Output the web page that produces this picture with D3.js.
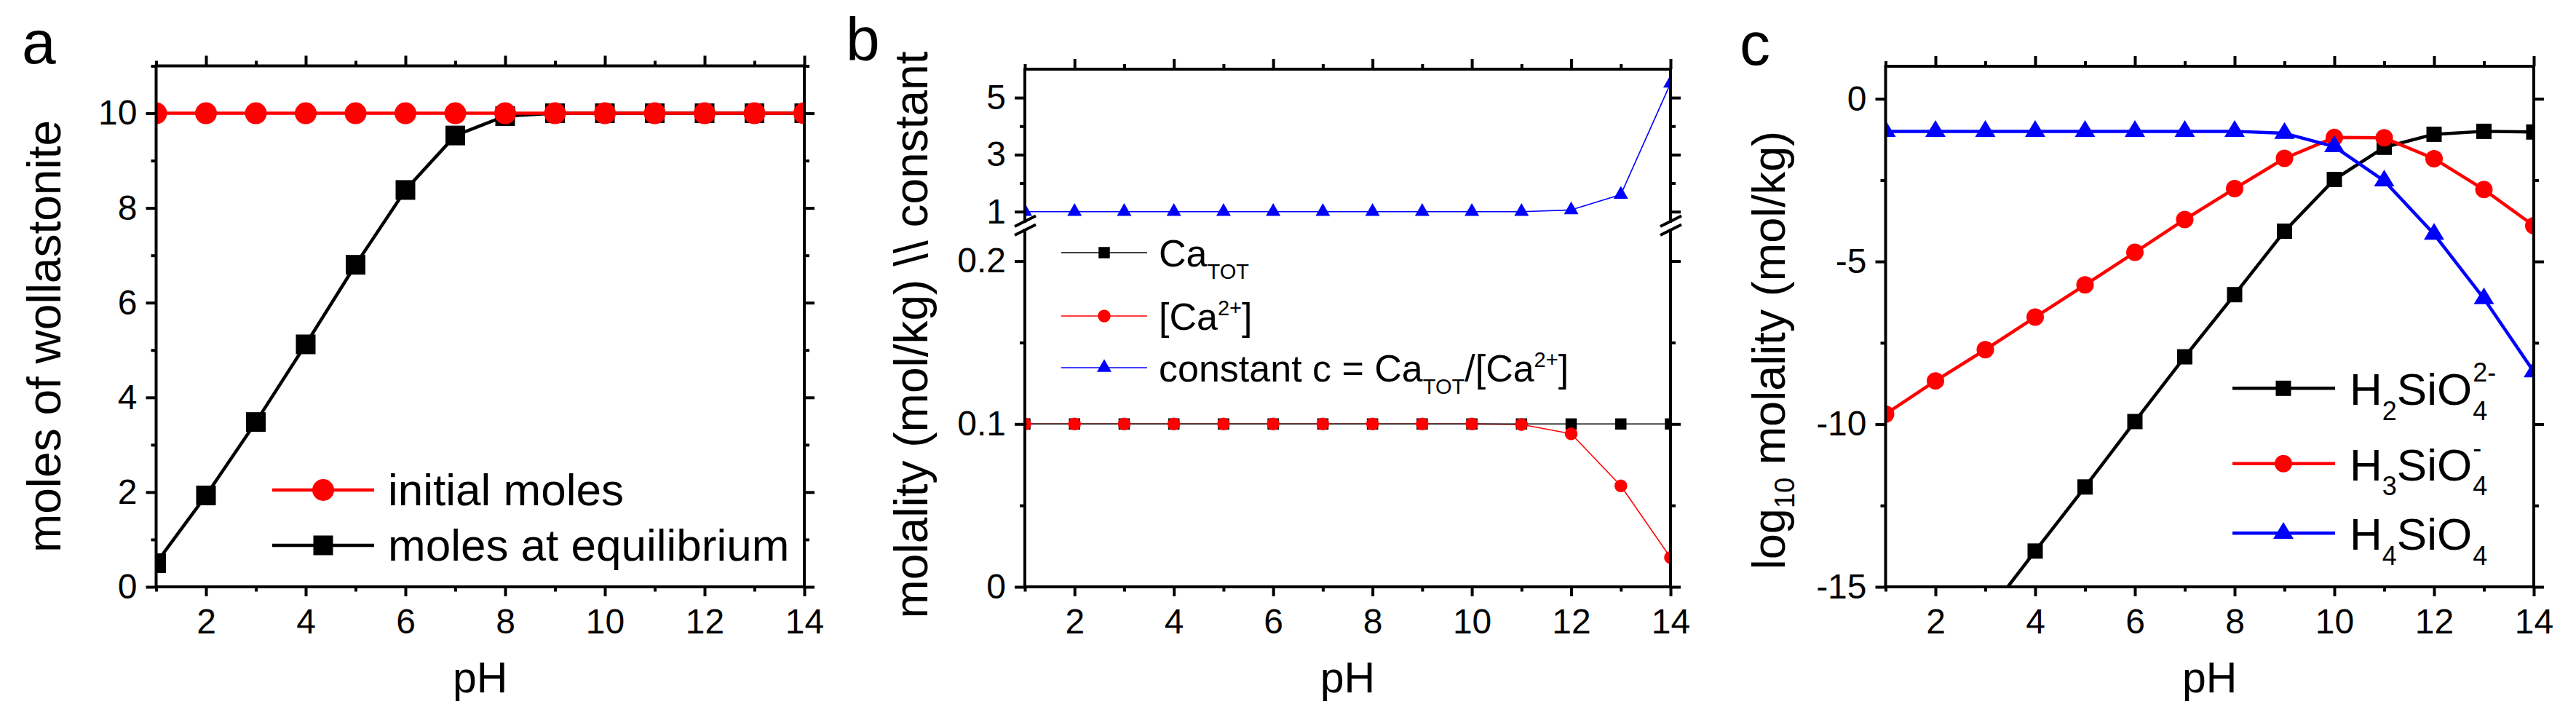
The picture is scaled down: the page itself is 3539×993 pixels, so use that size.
<!DOCTYPE html>
<html><head><meta charset="utf-8">
<script src="https://cdn.jsdelivr.net/npm/d3@7"></script>
<style>html,body{margin:0;padding:0;background:#fff}</style>
</head><body>
<svg id="chart" width="3539" height="993"></svg>
<script>
// ---------------- DATA ----------------
const pH = [1,2,3,4,5,6,7,8,9,10,11,12,13,14];
const xMajorTicks = [2,4,6,8,10,12,14];
const xMinorTicks = [1,3,5,7,9,11,13];

// panel a
const initialMoles     = [10,10,10,10,10,10,10,10,10,10,10,10,10,10];
const equilibriumMoles = [0.5,1.93,3.48,5.12,6.8,8.38,9.53,9.94,10,10,10,10,10,10];
const aYMajor = [0,2,4,6,8,10];
const aYMinor = [1,3,5,7,9,11];

// panel b
const caTot  = [0.1,0.1,0.1,0.1,0.1,0.1,0.1,0.1,0.1,0.1,0.1,0.1,0.1,0.1];
const caFree = [0.1,0.1,0.1,0.1,0.1,0.1,0.1,0.1,0.1,0.1,0.0997,0.094,0.062,0.018];
const constC = [1,1,1,1,1,1,1,1,1,1,1,1.06,1.6,5.5];
const bLowMajor = [0,0.1,0.2];
const bLowMinor = [0.05,0.15];
const bUpMajor  = [1,3,5];
const bUpMinor  = [2,4];

// panel c
const h2sio4 = [-19.9,-17.9,-15.9,-13.9,-11.93,-9.92,-7.93,-6.02,-4.07,-2.48,-1.49,-1.09,-1.0,-1.02];
const h3sio4 = [-9.69,-8.67,-7.71,-6.71,-5.72,-4.72,-3.71,-2.76,-1.83,-1.19,-1.2,-1.84,-2.79,-3.9];
const h4sio4 = [-1,-1,-1,-1,-1,-1,-1,-1,-1.06,-1.47,-2.52,-4.16,-6.14,-8.39];
const cYMajor = [-15,-10,-5,0];
const cYMinor = [-12.5,-7.5,-2.5];

// ---------------- DRAWING ----------------
const FONT = "'Liberation Sans', Arial, Helvetica, sans-serif";
const svg = d3.select('#chart');
svg.append('rect').attr('width',3539).attr('height',993).attr('fill','#fff');
const RED = '#ff0000', BLUE = '#0000ff', BLACK = '#000000';

function styleAxis(sel, fs) {
  sel.attr('font-size', fs).attr('font-family', FONT);
  sel.select('.domain').remove();
  sel.selectAll('.tick line').attr('stroke','#000').attr('stroke-width',4);
  sel.selectAll('.tick text').attr('fill','#000');
}
const fmt = d => String(d);

function xAxes(g, x, top, bottom) {
  g.append('g').attr('transform',`translate(0,${bottom})`)
    .call(d3.axisBottom(x).tickValues(xMajorTicks).tickSize(13).tickPadding(17).tickFormat(fmt))
    .call(s=>styleAxis(s,48));
  g.append('g').attr('transform',`translate(0,${bottom})`)
    .call(d3.axisBottom(x).tickValues(xMinorTicks).tickSize(6.5).tickFormat(''))
    .call(s=>styleAxis(s,48));
  g.append('g').attr('transform',`translate(0,${top})`)
    .call(d3.axisTop(x).tickValues(xMajorTicks).tickSize(14).tickFormat(''))
    .call(s=>styleAxis(s,48));
  g.append('g').attr('transform',`translate(0,${top})`)
    .call(d3.axisTop(x).tickValues(xMinorTicks).tickSize(7).tickFormat(''))
    .call(s=>styleAxis(s,48));
}
function yAxes(g, y, left, right, major, minor) {
  g.append('g').attr('transform',`translate(${left},0)`)
    .call(d3.axisLeft(y).tickValues(major).tickSize(14).tickPadding(12).tickFormat(fmt))
    .call(s=>styleAxis(s,48));
  g.append('g').attr('transform',`translate(${left},0)`)
    .call(d3.axisLeft(y).tickValues(minor).tickSize(7).tickFormat(''))
    .call(s=>styleAxis(s,48));
  g.append('g').attr('transform',`translate(${right},0)`)
    .call(d3.axisRight(y).tickValues(major).tickSize(14).tickFormat(''))
    .call(s=>styleAxis(s,48));
  g.append('g').attr('transform',`translate(${right},0)`)
    .call(d3.axisRight(y).tickValues(minor).tickSize(7).tickFormat(''))
    .call(s=>styleAxis(s,48));
}

function marker(g, cx, cy, m, color) {
  if (m.shape === 'circle') {
    g.append('circle').attr('cx',cx).attr('cy',cy).attr('r',m.w/2).attr('fill',color);
  } else if (m.shape === 'square') {
    g.append('rect').attr('x',cx-m.w/2).attr('y',cy-m.w/2).attr('width',m.w).attr('height',m.w).attr('fill',color);
  } else {
    const h = m.h, w = m.w;
    g.append('path').attr('d',`M${cx},${cy-2*h/3}L${cx+w/2},${cy+h/3}L${cx-w/2},${cy+h/3}Z`).attr('fill',color);
  }
}
function seriesLine(g, x, y, ys, color, lw) {
  g.append('path').datum(ys)
    .attr('d', d3.line().x((d,i)=>x(pH[i])).y(d=>y(d)))
    .attr('fill','none').attr('stroke',color).attr('stroke-width',lw).attr('stroke-linejoin','round');
}
function seriesMarkers(g, x, y, ys, color, m) {
  ys.forEach((v,i)=>marker(g, x(pH[i]), y(v), m, color));
}
function clip(id, x0, y0, x1, y1) {
  svg.append('defs').append('clipPath').attr('id',id)
    .append('rect').attr('x',x0).attr('y',y0).attr('width',x1-x0).attr('height',y1-y0);
  return `url(#${id})`;
}
// rich text: parts [{t, sub|sup}]
function rich(g, x, y, parts, fs, subFs, subDy, supDy, anchor) {
  const t = g.append('text').attr('x',x).attr('y',y).attr('font-family',FONT).attr('font-size',fs)
    .attr('fill','#000').attr('text-anchor',anchor||'start');
  let cur = 0;
  parts.forEach(p=>{
    const target = p.sub ? subDy : (p.sup ? -supDy : 0);
    const ts = t.append('tspan').text(p.t).attr('dy', target - cur);
    if (p.sub || p.sup) ts.attr('font-size', subFs);
    cur = target;
  });
  return t;
}
function legendRow(g, x0, x1, xm, y, color, lw, m, drawText) {
  g.append('line').attr('x1',x0).attr('x2',x1).attr('y1',y).attr('y2',y).attr('stroke',color).attr('stroke-width',lw);
  marker(g, xm, y, m, color);
  drawText();
}
function frameRect(g, L, R, T, B) {
  g.append('rect').attr('x',L).attr('y',T).attr('width',R-L).attr('height',B-T)
    .attr('fill','none').attr('stroke','#000').attr('stroke-width',4);
}

// ---------- Panel a ----------
(function(){
  const L=214.5, R=1105, T=90.5, B=806;
  const x = d3.scaleLinear().domain([1,14]).range([L,R]);
  const y = d3.scaleLinear().domain([0,11]).range([B,T]);
  const g = svg.append('g');
  const pg = g.append('g').attr('clip-path', clip('clipA',L,T,R,B));
  const sq = {shape:'square', w:27}, ci = {shape:'circle', w:30};
  seriesLine(pg, x, y, equilibriumMoles, BLACK, 4.5);
  seriesMarkers(pg, x, y, equilibriumMoles, BLACK, sq);
  seriesLine(pg, x, y, initialMoles, RED, 4.5);
  seriesMarkers(pg, x, y, initialMoles, RED, ci);
  xAxes(g, x, T, B);
  yAxes(g, y, L, R, aYMajor, aYMinor);
  frameRect(g, L, R, T, B);
  legendRow(g, 374, 514, 444, 673, RED, 4.5, ci, ()=>rich(g, 533, 694, [{t:'initial moles'}], 62));
  legendRow(g, 374, 514, 444, 749, BLACK, 4.5, sq, ()=>rich(g, 533, 770, [{t:'moles at equilibrium'}], 62));
  g.append('text').attr('transform','translate(83,462) rotate(-90)').attr('text-anchor','middle')
    .attr('font-family',FONT).attr('font-size',64).text('moles of wollastonite');
  g.append('text').attr('x',(L+R)/2).attr('y',951).attr('text-anchor','middle')
    .attr('font-family',FONT).attr('font-size',59).text('pH');
  g.append('text').attr('x',30).attr('y',87).attr('font-family',FONT).attr('font-size',84).text('a');
})();

// ---------- Panel b ----------
(function(){
  const L=1408, R=2295, T=95, B=806;
  const brkLow = 316, brkUp = 304;
  const x = d3.scaleLinear().domain([1,14]).range([L,R]);
  const yLow = d3.scaleLinear().domain([0,0.1]).range([B,582.3]);
  const yUp  = d3.scaleLinear().domain([1,5]).range([290.7,134.1]);
  const g = svg.append('g');
  const lowG = g.append('g').attr('clip-path', clip('clipBl',L,brkLow,R,B));
  const upG  = g.append('g').attr('clip-path', clip('clipBu',L,T,R,brkUp));
  const sq = {shape:'square', w:15.5}, ci = {shape:'circle', w:17.5}, tr = {shape:'triangle', w:20, h:17.5};
  seriesLine(lowG, x, yLow, caFree, RED, 1.6);
  seriesLine(lowG, x, yLow, caTot, BLACK, 1.6);
  seriesMarkers(lowG, x, yLow, caTot, BLACK, sq);
  seriesMarkers(lowG, x, yLow, caFree, RED, ci);
  seriesLine(upG, x, yUp, constC, BLUE, 1.6);
  seriesMarkers(upG, x, yUp, constC, BLUE, tr);
  xAxes(g, x, T, B);
  yAxes(g, yLow, L, R, bLowMajor, bLowMinor);
  yAxes(g, yUp, L, R, bUpMajor, bUpMinor);
  // frame with breaks
  const fr = [[L,T,R,T],[L,B,R,B],[L,T,L,brkUp],[L,brkLow,L,B],[R,T,R,brkUp],[R,brkLow,R,B]];
  fr.forEach(s=>g.append('line').attr('x1',s[0]).attr('y1',s[1]).attr('x2',s[2]).attr('y2',s[3])
    .attr('stroke','#000').attr('stroke-width',4).attr('stroke-linecap','square'));
  [L,R].forEach(xx=>[brkUp,brkLow].forEach(yy=>{
    g.append('line').attr('x1',xx-14).attr('y1',yy+7).attr('x2',xx+15).attr('y2',yy-7.5)
      .attr('stroke','#000').attr('stroke-width',4);
  }));
  // legend
  legendRow(g, 1458, 1576, 1517, 347, BLACK, 1.6, sq, ()=>rich(g, 1592, 366, [{t:'Ca'},{t:'TOT',sub:true}], 52, 29, 16.6, 20));
  legendRow(g, 1458, 1576, 1517, 434, RED, 1.6, ci, ()=>rich(g, 1592, 453, [{t:'[Ca'},{t:'2+',sup:true},{t:']'}], 52, 29, 16.6, 20));
  legendRow(g, 1458, 1576, 1517, 505, BLUE, 1.6, tr, ()=>rich(g, 1592, 524,
    [{t:'constant c = Ca'},{t:'TOT',sub:true},{t:'/[Ca'},{t:'2+',sup:true},{t:']'}], 52, 29, 16.6, 20));
  g.append('text').attr('transform','translate(1274,460) rotate(-90)').attr('text-anchor','middle')
    .attr('font-family',FONT).attr('font-size',64).text('molality (mol/kg) \\\\ constant');
  g.append('text').attr('x',(L+R)/2).attr('y',951).attr('text-anchor','middle')
    .attr('font-family',FONT).attr('font-size',59).text('pH');
  g.append('text').attr('x',1162).attr('y',83).attr('font-family',FONT).attr('font-size',84).text('b');
})();

// ---------- Panel c ----------
(function(){
  const L=2590.5, R=3481, T=91, B=806;
  const x = d3.scaleLinear().domain([1,14]).range([L,R]);
  const y = d3.scaleLinear().domain([-15,1]).range([B,T]);
  const g = svg.append('g');
  const pg = g.append('g').attr('clip-path', clip('clipC',L,T,R,B));
  const sq = {shape:'square', w:21}, ci = {shape:'circle', w:24}, tr = {shape:'triangle', w:28, h:23};
  seriesLine(pg, x, y, h2sio4, BLACK, 4.5);
  seriesMarkers(pg, x, y, h2sio4, BLACK, sq);
  seriesLine(pg, x, y, h3sio4, RED, 4.5);
  seriesMarkers(pg, x, y, h3sio4, RED, ci);
  seriesLine(pg, x, y, h4sio4, BLUE, 4.5);
  seriesMarkers(pg, x, y, h4sio4, BLUE, tr);
  xAxes(g, x, T, B);
  yAxes(g, y, L, R, cYMajor, cYMinor);
  frameRect(g, L, R, T, B);
  // legend with stacked sub/superscripts
  function silicate(yRow, color, m, hSub, sup) {
    legendRow(g, 3067, 3208, 3137, yRow, color, 4.5, m, ()=>{
      const base = yRow + 23;
      const t = rich(g, 3228, base, [{t:'H'},{t:hSub,sub:true},{t:'SiO'}], 62, 36, 20.7, 32);
      const len = t.node().getComputedTextLength();
      g.append('text').attr('x',3228+len+1).attr('y',base+20.7).attr('font-family',FONT).attr('font-size',36).text('4');
      if (sup) g.append('text').attr('x',3228+len+1).attr('y',base-32).attr('font-family',FONT).attr('font-size',36).text(sup);
    });
  }
  silicate(533.3, BLACK, sq, '2', '2-');
  silicate(636.7, RED, ci, '3', '-');
  silicate(732.3, BLUE, tr, '4', null);
  const tt = g.append('text').attr('transform','translate(2452,481) rotate(-90)').attr('text-anchor','middle')
    .attr('font-family',FONT).attr('font-size',63);
  tt.append('tspan').text('log');
  tt.append('tspan').text('10').attr('font-size',38).attr('dy',13);
  tt.append('tspan').text(' molality (mol/kg)').attr('dy',-13);
  g.append('text').attr('x',(L+R)/2).attr('y',951).attr('text-anchor','middle')
    .attr('font-family',FONT).attr('font-size',59).text('pH');
  g.append('text').attr('x',2390).attr('y',89).attr('font-family',FONT).attr('font-size',84).text('c');
})();
</script>
</body></html>
